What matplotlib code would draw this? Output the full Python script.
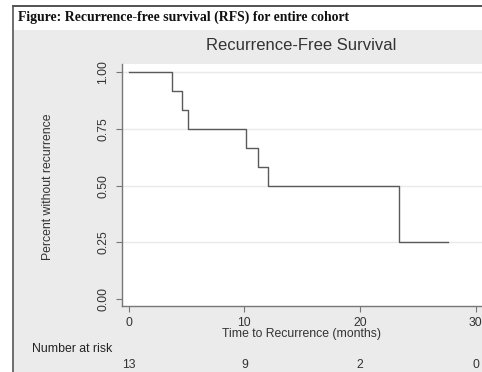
import matplotlib
matplotlib.use("Agg")
import matplotlib.pyplot as plt
from matplotlib.patches import Rectangle
from matplotlib.lines import Line2D
import matplotlib.transforms as mtransforms

# ---- data ----
step_times = [0, 3.7, 4.6, 5.1, 10.1, 11.2, 12.0, 23.4, 27.6]
survival   = [1.0, 0.917, 0.833, 0.75, 0.667, 0.583, 0.5, 0.25, 0.25]
x_ticks = [0, 10, 20, 30]
y_ticks = [0.0, 0.25, 0.5, 0.75, 1.0]
y_tick_labels = ["0.00", "0.25", "0.50", "0.75", "1.00"]
risk_times = [0, 10, 20, 30]
at_risk = [13, 9, 2, 0]

W, H = 482, 372
fig = plt.figure(figsize=(W / 100, H / 100), dpi=100)
fig.patch.set_facecolor("white")

def fx(px):
    return px / W

def fy(py):
    return 1 - py / H

FS = 8.8

# gray background region
bg = Rectangle((fx(13), 0), 1 - fx(13), fy(30), transform=fig.transFigure,
               facecolor="#ebebeb", edgecolor="none", zorder=-10)
fig.patches.append(bg)
# borders
fig.lines.append(Line2D([fx(12.5), 1], [fy(6), fy(6)], transform=fig.transFigure,
                        color="#333333", lw=1.2, zorder=-5))
fig.lines.append(Line2D([fx(12.5), fx(12.5)], [fy(6), 0], transform=fig.transFigure,
                        color="#555555", lw=1.2, zorder=-5))

fig.text(fx(18), fy(17.5), "Figure: Recurrence-free survival (RFS) for entire cohort",
         family="Liberation Serif", weight="bold", fontsize=9.9, va="center", ha="left",
         color="#111111")

# axes
left, right, top, bottom = 122, 487.4, 64, 306
ax = fig.add_axes([fx(left), fy(bottom), fx(right - left), (bottom - top) / H])
ax.set_zorder(1)
ax.set_facecolor("white")
ax.set_xlim(-0.58, 31)
ax.set_ylim(-0.031, 1.037)

for y in [0.25, 0.5, 0.75, 1.0]:
    ax.axhline(y, color="#eaeaea", lw=1.0, zorder=1)

ax.step(step_times, survival, where="post", color="#5a5a5a", lw=1.0, zorder=3)

for s in ["top", "right"]:
    ax.spines[s].set_visible(False)
for s in ["left", "bottom"]:
    ax.spines[s].set_color("#777777")
    ax.spines[s].set_linewidth(1.0)

ax.set_xticks(x_ticks)
ax.set_xticklabels([str(t) for t in x_ticks])
ax.set_yticks(y_ticks)
ax.set_yticklabels(y_tick_labels, rotation=90, va="center")
ax.tick_params(axis="both", colors="#777777", length=4, width=0.8, labelsize=FS,
               labelcolor="#333333", pad=5)
ax.tick_params(axis="x", pad=4)
for lab in ax.get_xticklabels() + ax.get_yticklabels():
    lab.set_family("Liberation Sans")

fig.text(0.5 * (fx(206) + fx(397)), fy(46), "Recurrence-Free Survival",
         family="Liberation Sans", fontsize=12, ha="center", va="center", color="#333333")
fig.text(0.5 * (fx(222) + fx(382)), fy(334), "Time to Recurrence (months)",
         family="Liberation Sans", fontsize=FS, ha="center", va="center", color="#333333")
fig.text(fx(48), fy(187), "Percent without recurrence", family="Liberation Sans",
         fontsize=FS, rotation=90, ha="center", va="center", color="#333333")
fig.text(fx(32), fy(349), "Number at risk", family="Liberation Sans", fontsize=FS,
         ha="left", va="center", color="#222222")

trans = mtransforms.blended_transform_factory(ax.transData, fig.transFigure)
for t, n in zip(risk_times, at_risk):
    ax.text(t, fy(365), str(n), transform=trans, family="Liberation Sans", fontsize=FS,
            ha="center", va="center", color="#333333", clip_on=False)

fig.savefig("out.png", dpi=100, facecolor=fig.get_facecolor())
